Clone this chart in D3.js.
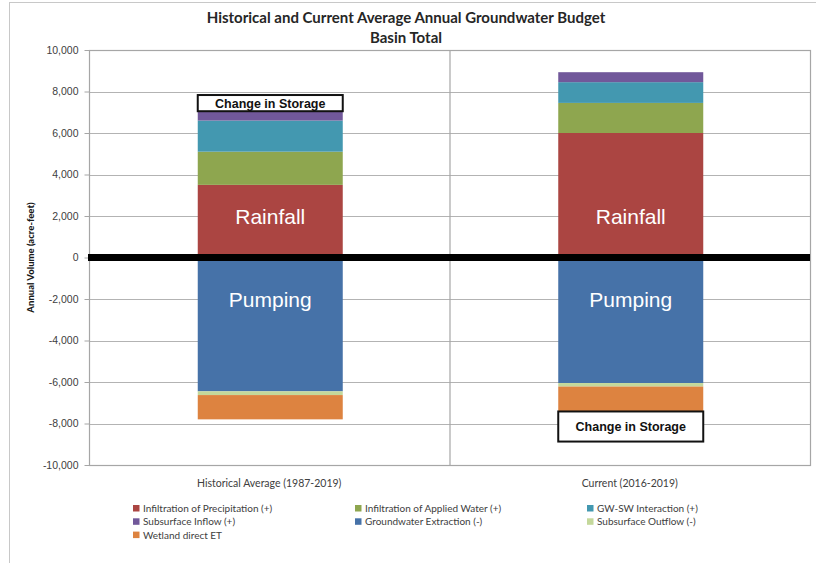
<!DOCTYPE html>
<html>
<head>
<meta charset="utf-8">
<script src="https://cdn.jsdelivr.net/npm/d3@7"></script>
<style>
  body { margin: 0; background: #fff; }
  svg { font-family: Lato, "Open Sans", sans-serif; }
</style>
</head>
<body>
<svg id="chart"></svg>
<script>
// periods on the x axis
const periods = ['Historical Average (1987-2019)', 'Current (2016-2019)'];

// budget components, acre-feet per year (outflows negative)
const precipitation = [3500, 6000];
const appliedWater = [1600, 1450];
const gwswInteraction = [1500, 1000];
const subsurfaceInflow = [450, 480];
const extraction = [-6450, -6050];
const subsurfaceOutflow = [-180, -170];
const wetlandET = [-1170, -1200];
const storageChange = [780, -1450];

const seriesNames = ['Infiltration of Precipitation (+)', 'Infiltration of Applied Water (+)',
  'GW-SW Interaction (+)', 'Subsurface Inflow (+)', 'Groundwater Extraction (-)',
  'Subsurface Outflow (-)', 'Wetland direct ET', 'Change in Storage'];
const yTicks = [-10000, -8000, -6000, -4000, -2000, 0, 2000, 4000, 6000, 8000, 10000];

const colors = ['#ab4542', '#8ea64f', '#4398b0', '#71589a', '#4672a8', '#c4d89b', '#dd8340', '#ffffff'];

const w = 816, h = 563;
const margin = {top: 50, right: 6, bottom: 98, left: 89};

const svg = d3.select('#chart').attr('width', w).attr('height', h);

// outer frame
svg.append('rect')
  .attr('x', 9.5).attr('y', 2.5)
  .attr('width', 820).attr('height', 600)
  .attr('fill', 'none').attr('stroke', '#c8c8c8');

const rows = periods.map((p, i) => {
  const r = {period: p};
  const all = [precipitation, appliedWater, gwswInteraction, subsurfaceInflow,
    extraction, subsurfaceOutflow, wetlandET, storageChange];
  seriesNames.forEach((s, j) => r[s] = all[j][i]);
  return r;
});

const stacked = d3.stack().keys(seriesNames).offset(d3.stackOffsetDiverging)(rows);

const x = d3.scaleBand().domain(periods)
  .range([margin.left, w - margin.right]).paddingInner(0).paddingOuter(0);
const y = d3.scaleLinear().domain([-10000, 10000])
  .range([h - margin.bottom, margin.top]);

// grid lines
svg.append('g').selectAll('line')
  .data(yTicks)
  .join('line')
  .attr('x1', margin.left).attr('x2', w - margin.right)
  .attr('y1', d => Math.round(y(d)) + 0.5).attr('y2', d => Math.round(y(d)) + 0.5)
  .attr('stroke', '#b3b3b3').attr('stroke-width', 1.2);

// plot frame + category divider
svg.append('rect')
  .attr('x', margin.left + 0.5).attr('y', y(10000) + 0.5)
  .attr('width', w - margin.right - margin.left).attr('height', y(-10000) - y(10000))
  .attr('fill', 'none').attr('stroke', '#a6a6a6').attr('stroke-width', 1.2);
svg.append('line')
  .attr('x1', x(periods[1]) + 0.5).attr('x2', x(periods[1]) + 0.5)
  .attr('y1', y(10000)).attr('y2', y(-10000))
  .attr('stroke', '#a6a6a6').attr('stroke-width', 1.2);

// y axis
const fmt = d3.format(',');
const yAxis = svg.append('g')
  .attr('transform', `translate(${margin.left + 0.5},0)`)
  .call(d3.axisLeft(y).tickValues(yTicks).tickSize(5).tickPadding(6)
    .tickFormat(d => fmt(d).replace('\u2212', '-')));
yAxis.select('.domain').remove();
yAxis.selectAll('line').attr('stroke', '#a6a6a6');
yAxis.selectAll('text').attr('font-size', 10.5).attr('fill', '#404040');

// bars
const barW = 145;
svg.append('g').selectAll('g')
  .data(stacked)
  .join('g')
  .attr('fill', (d, i) => colors[i])
  .each(function(s, i) {
    d3.select(this).selectAll('rect')
      .data(s)
      .join('rect')
      .attr('x', d => x(d.data.period) + x.bandwidth() / 2 - barW / 2 + 1)
      .attr('width', barW)
      .attr('y', d => y(Math.max(d[0], d[1])))
      .attr('height', d => Math.abs(y(d[0]) - y(d[1])))
      .attr('stroke', s.key === 'Change in Storage' ? '#111' : 'none')
      .attr('stroke-width', 2);
  });

// storage labels
const storage = stacked[stacked.length - 1];
svg.append('g').selectAll('text')
  .data(storage)
  .join('text')
  .attr('x', d => x(d.data.period) + x.bandwidth() / 2 + 1)
  .attr('y', d => (y(d[0]) + y(d[1])) / 2 + 4.5)
  .attr('text-anchor', 'middle')
  .attr('font-family', 'Liberation Sans, Arial, sans-serif')
  .attr('font-weight', 'bold').attr('font-size', 12.5)
  .attr('fill', '#111')
  .text('Change in Storage');

// Rainfall / Pumping
const inner = [
  {label: 'Rainfall', v: 2000},
  {label: 'Pumping', v: -2000}
];
periods.forEach(p => {
  svg.append('g').selectAll('text')
    .data(inner)
    .join('text')
    .attr('x', x(p) + x.bandwidth() / 2 + 1)
    .attr('y', d => y(d.v) + 7.5)
    .attr('text-anchor', 'middle')
    .attr('font-family', 'Liberation Sans, Arial, sans-serif')
    .attr('font-size', 21)
    .attr('fill', '#fff')
    .text(d => d.label);
});

// zero line
svg.append('line')
  .attr('x1', margin.left - 1).attr('x2', w - margin.right)
  .attr('y1', y(0)).attr('y2', y(0))
  .attr('stroke', '#000').attr('stroke-width', 7);

// x labels
svg.append('g').selectAll('text')
  .data(periods)
  .join('text')
  .attr('x', d => x(d) + x.bandwidth() / 2)
  .attr('y', h - margin.bottom + 22)
  .attr('text-anchor', 'middle')
  .attr('font-size', 10.5).attr('fill', '#404040')
  .text(d => d);

// titles
svg.append('text')
  .attr('x', 406).attr('y', 23)
  .attr('text-anchor', 'middle')
  .attr('font-weight', 'bold').attr('font-size', 15).attr('fill', '#262626')
  .text('Historical and Current Average Annual Groundwater Budget');
svg.append('text')
  .attr('x', 406).attr('y', 43)
  .attr('text-anchor', 'middle')
  .attr('font-weight', 'bold').attr('font-size', 15).attr('fill', '#262626')
  .text('Basin Total');

svg.append('text')
  .attr('transform', `translate(34,${y(0)}) rotate(-90)`)
  .attr('text-anchor', 'middle')
  .attr('font-weight', 900).attr('font-size', 9.5).attr('fill', '#1a1a1a')
  .text('Annual Volume (acre-feet)');

// legend
const legendCols = [133, 355, 587];
const legend = svg.append('g').selectAll('g')
  .data(seriesNames.slice(0, 7))
  .join('g')
  .attr('transform', (d, i) => `translate(${legendCols[i % 3]},${512 + Math.floor(i / 3) * 13.3})`);
legend.append('rect')
  .attr('x', 0).attr('y', -7).attr('width', 6.5).attr('height', 6.5)
  .attr('fill', (d, i) => colors[i]);
legend.append('text')
  .attr('x', 10).attr('y', 0)
  .attr('font-size', 10).attr('fill', '#404040')
  .text(d => d);
</script>
</body>
</html>
